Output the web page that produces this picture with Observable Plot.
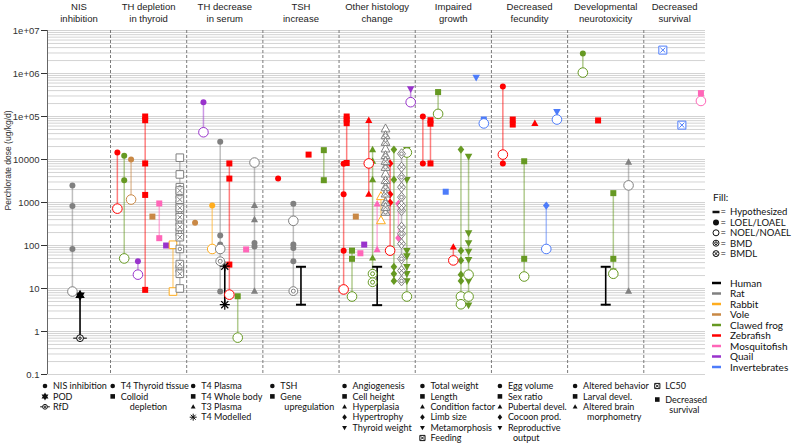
<!DOCTYPE html>
<html><head><meta charset="utf-8">
<script src="https://cdn.jsdelivr.net/npm/d3@7"></script>
<script src="https://cdn.jsdelivr.net/npm/@observablehq/plot@0.6"></script>
<style>body{margin:0;background:#fff}</style>
</head><body><div id="chart"></div>
<script>
// ---------- data ----------
const species = ["Human","Rat","Rabbit","Vole","Clawed frog","Zebrafish","Mosquitofish","Quail","Invertebrates"];
const speciesColors = ["#000000","#808080","#ffad1f","#c98845","#669922","#ff0000","#ff66b8","#9933cc","#4d7cfa"];
const headers = ["NIS\ninhibition","TH depletion\nin thyroid","TH decrease\nin serum","TSH\nincrease","Other histology\nchange","Impaired\ngrowth","Decreased\nfecundity","Developmental\nneurotoxicity","Decreased\nsurvival"];
const yTicks = [1e7,1e6,1e5,1e4,1e3,100,10,1,0.1];
const yTickLabels = ["1e+07","1e+06","1e+05","10000","1000","100","10","1","0.1"];
const yLabel = "Perchlorate dose (ug/kg/d)";
const X_MIN = 0.173, X_MAX = 8.81;
const dividers = [1,2,3,4,5,6,7,8];

// [x, species, shape, style(F=LOEL, O=NOEL, M=BMD, L=BMDL), dose]
const nisData = [
 [0.5,"Rat","circle","F",2500],[0.5,"Rat","circle","F",830],[0.5,"Rat","circle","F",83],[0.5,"Rat","circle","O",8.5],
 [0.6,"Human","pod","F",7],[0.6,"Human","rfd","O",0.7]
];
const thyroidData = [
 [1.09,"Zebrafish","circle","F",14500],[1.09,"Zebrafish","circle","O",720],
 [1.18,"Clawed frog","circle","F",12300],[1.18,"Clawed frog","circle","F",3300],[1.18,"Clawed frog","circle","O",50],
 [1.27,"Vole","circle","F",10000],[1.27,"Vole","circle","O",1170],
 [1.36,"Quail","circle","F",43],[1.36,"Quail","circle","O",21],
 [1.455,"Zebrafish","square","F",100000],[1.455,"Zebrafish","square","F",82000],[1.455,"Zebrafish","square","F",8100],[1.455,"Zebrafish","square","F",1500],[1.455,"Zebrafish","square","F",9.3],
 [1.55,"Vole","square","F",470],
 [1.64,"Mosquitofish","square","F",950],[1.64,"Mosquitofish","square","F",148],
 [1.73,"Quail","square","F",100],
 [1.82,"Rabbit","square","O",104],[1.82,"Rabbit","square","O",8.5],
 [1.91,"Rat","square","O",11000],[1.91,"Rat","square","O",4500],[1.91,"Rat","square","M",2270],[1.91,"Rat","square","L",1900],
 [1.91,"Rat","square","M",1510],[1.91,"Rat","square","L",1170],[1.91,"Rat","square","M",930],[1.91,"Rat","square","L",750],
 [1.91,"Rat","square","M",600],[1.91,"Rat","square","L",455],[1.91,"Rat","square","M",350],[1.91,"Rat","square","L",270],
 [1.91,"Rat","square","M",205],[1.91,"Rat","square","L",156],[1.91,"Rat","square","M",83],[1.91,"Rat","square","L",37],
 [1.91,"Rat","square","M",29],[1.91,"Rat","square","L",22],[1.91,"Rat","square","O",10]
];
const serumData = [
 [2.11,"Vole","circle","F",340],
 [2.22,"Quail","circle","F",215000],[2.22,"Quail","circle","O",43000],
 [2.335,"Rabbit","circle","F",850],[2.335,"Rabbit","circle","O",83],
 [2.44,"Rat","circle","F",25700],[2.44,"Rat","circle","F",170],[2.44,"Rat","circle","F",105],[2.44,"Rat","circle","F",95],[2.44,"Rat","circle","O",83],[2.44,"Rat","circle","M",43],[2.44,"Rat","circle","F",8.5],
 [2.5,"Human","asterisk","F",33],[2.5,"Human","asterisk","F",4.2],
 [2.56,"Zebrafish","square","F",8100],[2.56,"Zebrafish","square","F",3600],[2.56,"Zebrafish","square","F",36],[2.56,"Zebrafish","circle","O",7.2],
 [2.67,"Clawed frog","square","F",6.6],[2.67,"Clawed frog","circle","O",0.72],
 [2.78,"Mosquitofish","square","F",81],
 [2.89,"Rat","circle","O",8500],[2.89,"Rat","triangle","F",850],[2.89,"Rat","triangle","F",400],[2.89,"Rat","circle","F",115],[2.89,"Rat","circle","F",95],[2.89,"Rat","triangle","F",8.7]
];
const tshData = [
 [3.2,"Zebrafish","circle","F",3600],
 [3.4,"Rat","circle","F",930],[3.4,"Rat","circle","O",375],[3.4,"Rat","circle","F",105],[3.4,"Rat","circle","F",88],[3.4,"Rat","circle","F",43],[3.4,"Rat","circle","M",8.7],
 [3.5,"Human","hyp","F",32],[3.5,"Human","hyp","F",4.2],
 [3.6,"Zebrafish","square","F",13000],
 [3.8,"Clawed frog","square","F",16500],[3.8,"Clawed frog","square","F",3300]
];
const histologyData = [
 [4.06,"Zebrafish","circle","F",7950],[4.06,"Zebrafish","circle","F",1550],[4.06,"Zebrafish","circle","F",76],[4.06,"Zebrafish","circle","O",9.5],
 [4.1,"Zebrafish","square","F",100000],[4.1,"Zebrafish","square","F",85000],[4.1,"Zebrafish","square","F",70000],[4.1,"Zebrafish","square","F",8300],
 [4.17,"Clawed frog","square","F",76],[4.17,"Clawed frog","square","F",49],[4.17,"Clawed frog","circle","O",6.5],
 [4.22,"Vole","square","F",470],
 [4.28,"Mosquitofish","square","F",66],
 [4.33,"Quail","square","F",105],
 [4.39,"Zebrafish","triangle","F",81000],[4.39,"Zebrafish","circle","O",8100],[4.39,"Zebrafish","triangle","F",1550],
 [4.44,"Clawed frog","triangle","F",17000],[4.44,"Clawed frog","triangle","F",9100],[4.44,"Clawed frog","triangle","F",3400],[4.44,"Clawed frog","triangle","F",51],[4.44,"Clawed frog","circle","M",22],[4.44,"Clawed frog","circle","M",14],
 [4.5,"Mosquitofish","triangle","F",930],[4.5,"Mosquitofish","triangle","F",80],
 [4.5,"Human","hyp","F",32],[4.5,"Human","hyp","F",4.1],
 [4.55,"Rabbit","triangle","O",1380],[4.55,"Rabbit","triangle","O",380],
 [4.61,"Rat","triangle","O",51800],[4.61,"Rat","triangle","M",36100],[4.61,"Rat","triangle","L",25200],[4.61,"Rat","triangle","O",17700],
 [4.61,"Rat","triangle","M",12400],[4.61,"Rat","triangle","L",9140],[4.61,"Rat","triangle","M",6620],[4.61,"Rat","triangle","O",4640],
 [4.61,"Rat","triangle","L",3250],[4.61,"Rat","triangle","M",2270],[4.61,"Rat","triangle","L",1590],[4.61,"Rat","triangle","M",1015],
 [4.61,"Rat","triangle","L",778],[4.61,"Rat","triangle","M",596],
 [4.67,"Zebrafish","diamond","F",8100],[4.67,"Zebrafish","diamond","F",1550],[4.67,"Zebrafish","diamond","F",1000],[4.67,"Zebrafish","circle","O",76],
 [4.72,"Clawed frog","diamond","F",17000],[4.72,"Clawed frog","diamond","F",3400],[4.72,"Clawed frog","diamond","F",32],[4.72,"Clawed frog","diamond","F",22],[4.72,"Clawed frog","diamond","F",15],
 [4.78,"Mosquitofish","diamond","F",930],[4.78,"Mosquitofish","diamond","F",150],
 [4.82,"Rat","diamond","M",13600],[4.82,"Rat","diamond","L",6620],[4.82,"Rat","diamond","M",3870],[4.82,"Rat","diamond","L",2270],
 [4.82,"Rat","diamond","M",1330],[4.82,"Rat","diamond","L",850],[4.82,"Rat","diamond","M",650],[4.82,"Rat","diamond","L",267],
 [4.82,"Rat","diamond","M",187],[4.82,"Rat","diamond","L",110],[4.82,"Rat","diamond","M",49],[4.82,"Rat","diamond","L",26],[4.82,"Rat","diamond","M",15],
 [4.89,"Clawed frog","invtri","F",17000],[4.89,"Clawed frog","circle","O",14500],[4.89,"Clawed frog","invtri","F",3400],[4.89,"Clawed frog","invtri","F",76],
 [4.89,"Clawed frog","invtri","F",57],[4.89,"Clawed frog","invtri","F",32],[4.89,"Clawed frog","invtri","F",22],[4.89,"Clawed frog","invtri","F",15],[4.89,"Clawed frog","circle","O",6.5],
 [4.94,"Quail","invtri","F",440000],[4.94,"Quail","circle","O",215000]
];
const growthData = [
 [5.1,"Zebrafish","circle","F",100000],[5.1,"Zebrafish","circle","F",8100],
 [5.2,"Zebrafish","square","F",82000],[5.2,"Zebrafish","square","F",68000],[5.2,"Zebrafish","square","F",8100],
 [5.3,"Clawed frog","square","F",370000],[5.3,"Clawed frog","circle","O",115000],
 [5.4,"Invertebrates","square","F",1780],
 [5.5,"Zebrafish","triangle","F",92],[5.5,"Zebrafish","circle","O",45],
 [5.6,"Clawed frog","diamond","F",17000],[5.6,"Clawed frog","diamond","F",76],[5.6,"Clawed frog","diamond","F",45],[5.6,"Clawed frog","diamond","F",21],[5.6,"Clawed frog","diamond","F",15],[5.6,"Clawed frog","circle","O",6.5],[5.6,"Clawed frog","circle","O",4.3],
 [5.7,"Clawed frog","invtri","F",11800],[5.7,"Clawed frog","invtri","F",195],[5.7,"Clawed frog","invtri","F",115],[5.7,"Clawed frog","invtri","F",73],[5.7,"Clawed frog","invtri","F",47],
 [5.7,"Clawed frog","circle","O",21],[5.7,"Clawed frog","invtri","F",15],[5.7,"Clawed frog","circle","O",6.5],[5.7,"Clawed frog","invtri","F",4.1],
 [5.8,"Invertebrates","invtri","F",810000],
 [5.9,"Invertebrates","square","F",85000],[5.9,"Invertebrates","circle","O",69000]
];
const fecundityData = [
 [6.15,"Zebrafish","circle","F",500000],[6.15,"Zebrafish","circle","O",13000],[6.15,"Zebrafish","circle","F",8100],
 [6.28,"Zebrafish","square","F",85000],[6.28,"Zebrafish","square","F",65000],
 [6.43,"Clawed frog","square","F",9100],[6.43,"Clawed frog","square","F",49],[6.43,"Clawed frog","circle","O",19],
 [6.57,"Zebrafish","triangle","F",69000],
 [6.72,"Invertebrates","diamond","F",850],[6.72,"Invertebrates","circle","O",83],
 [6.86,"Invertebrates","invtri","F",130000],[6.86,"Invertebrates","circle","O",85000]
];
const neuroData = [
 [7.2,"Clawed frog","circle","F",2900000],[7.2,"Clawed frog","circle","O",1050000],
 [7.4,"Zebrafish","square","F",81000],
 [7.5,"Human","hyp","F",32],[7.5,"Human","hyp","F",4.2],
 [7.6,"Clawed frog","square","F",1650],[7.6,"Clawed frog","square","F",49],[7.6,"Clawed frog","circle","O",22],[7.6,"Clawed frog","square","F",25],
 [7.8,"Rat","triangle","F",8700],[7.8,"Rat","circle","O",2500],[7.8,"Rat","triangle","F",8.7]
];
const survivalData = [
 [8.25,"Invertebrates","lc50","L",3500000],
 [8.5,"Invertebrates","lc50","L",63000],
 [8.75,"Mosquitofish","square","F",350000],[8.75,"Mosquitofish","circle","O",230000]
];

// bottom legends: [shape, text, row, indent]
const bottomLegends = [
 [["circle","NIS inhibition",0],["pod","POD",1],["rfd","RfD",2]],
 [["circle","T4 Thyroid tissue",0],["square","Colloid",1],[null,"depletion",2,9]],
 [["circle","T4 Plasma",0],["square","T4 Whole body",1],["triangle","T3 Plasma",2],["asterisk","T4 Modelled",3]],
 [["circle","TSH",0],["square","Gene",1],[null,"upregulation",2,4]],
 [["circle","Angiogenesis",0],["square","Cell height",1],["triangle","Hyperplasia",2],["diamond","Hypertrophy",3],["invtri","Thyroid weight",4]],
 [["circle","Total weight",0],["square","Length",1],["triangle","Condition factor",2],["diamond","Limb size",3],["invtri","Metamorphosis",4],["lc50","Feeding",5]],
 [["circle","Egg volume",0],["square","Sex ratio",1],["triangle","Pubertal devel.",2],["diamond","Cocoon prod.",3],["invtri","Reproductive",4],[null,"output",5,5]],
 [["circle","Altered behavior",0],["square","Larval devel.",1],["triangle","Altered brain",2],[null,"morphometry",3,4]],
 [["lc50","LC50",0],["square","Decreased",1.3],[null,"survival",2.3,4]]
];
const fillLegend = [["hyp","F","Hypothesized"],["circle","F","LOEL/LOAEL"],["circle","O","NOEL/NOAEL"],["circle","M","BMD"],["circle","L","BMDL"]];

// ---------- layout (pixels) ----------
const LAYOUT = {
  legendDx: [-2, 2.7, 7, 10, 6, 7.7, 9, 8, 14],
  bottomRow0: 386, bottomRowStep: 10.4,
  rightSymX: 716, rightEqX: 720.5, rightTextX: 730,
  fillTitleY: 197, fillRow0: 212, fillStep: 10.4,
  speciesRow0: 283, speciesStep: 10.5
};

// ---------- symbols ----------
function outline(ctx, shape, r) {
  switch (shape) {
    case "circle": ctx.moveTo(r,0); ctx.arc(0,0,r,0,2*Math.PI); break;
    case "square": case "lc50": ctx.rect(-r,-r,2*r,2*r); break;
    case "triangle": ctx.moveTo(0,-1.15*r); ctx.lineTo(1.05*r,0.75*r); ctx.lineTo(-1.05*r,0.75*r); ctx.closePath(); break;
    case "invtri": ctx.moveTo(0,1.15*r); ctx.lineTo(-1.05*r,-0.75*r); ctx.lineTo(1.05*r,-0.75*r); ctx.closePath(); break;
    case "diamond": ctx.moveTo(0,-1.25*r); ctx.lineTo(r,0); ctx.lineTo(0,1.25*r); ctx.lineTo(-r,0); ctx.closePath(); break;
    case "pod": {
      for (const a0 of [-Math.PI/2, Math.PI/2]) {
        for (let k = 0; k < 3; k++) {
          const a = a0 + k*2*Math.PI/3;
          k === 0 ? ctx.moveTo(r*Math.cos(a), r*Math.sin(a)) : ctx.lineTo(r*Math.cos(a), r*Math.sin(a));
        }
        ctx.closePath();
      }
      break;
    }
    case "rfd": ctx.moveTo(r,0); ctx.arc(0,0,r,0,2*Math.PI);
      ctx.moveTo(r*0.35,0); ctx.arc(0,0,r*0.35,0,2*Math.PI);
      ctx.moveTo(-2*r,0); ctx.lineTo(-r,0); ctx.moveTo(r,0); ctx.lineTo(2*r,0); break;
    case "asterisk":
      for (let k = 0; k < 4; k++) { const a = k*Math.PI/4; ctx.moveTo(r*Math.cos(a), r*Math.sin(a)); ctx.lineTo(-r*Math.cos(a), -r*Math.sin(a)); }
      break;
    case "hyp": ctx.moveTo(-r,0); ctx.lineTo(r,0); break;
  }
}
function makeSymbol(shape, style) {
  return {draw(ctx, size) {
    const r = Math.sqrt(size/Math.PI);
    outline(ctx, shape, r);
    if (style === "M") { const q = r*0.45; ctx.moveTo(q,0); ctx.arc(0,0,q,0,2*Math.PI); }
    if (style === "L") { const q = r*0.62; ctx.moveTo(-q,-q); ctx.lineTo(q,q); ctx.moveTo(q,-q); ctx.lineTo(-q,q); }
  }};
}
function sizeFor(shape, style) {
  const filled = style === "F";
  switch (shape) {
    case "circle": return filled ? 3 : (style === "O" ? 4.8 : 4.4);
    case "square": return filled ? 3 : 3.8;
    case "triangle": return filled ? 3.4 : 4.2;
    case "diamond": return filled ? 3.3 : 4;
    case "invtri": return 3.6;
    case "pod": return 5.5;
    case "rfd": return 3.4;
    case "asterisk": return 5;
    case "hyp": return 5;
    case "lc50": return 4;
  }
  return 3;
}

// ---------- build ----------
const colorOf = new Map(species.map((s,i) => [s, speciesColors[i]]));
const toRow = ([x, sp, shape, style, dose]) => ({x, species: sp, shape, style, dose, key: sp + "|" + x});
const points = [nisData, thyroidData, serumData, tshData, histologyData, growthData, fecundityData, neuroData, survivalData].flat().map(toRow);
const linePts = points.slice().sort((a,b) => d3.ascending(a.key,b.key) || d3.ascending(a.dose,b.dose));
const gridValues = [];
for (let e = -1; e < 7; e++) for (let m = 1; m <= 9; m++) gridValues.push(m * 10**e);
gridValues.push(1e7);
const panelCenters = headers.map((_, i) => ((i === 0 ? X_MIN : i) + (i === 8 ? X_MAX : i + 1)) / 2);

const dotMarks = [];
const groups = d3.groups(points, d => d.shape + "|" + d.style);
const order = g => (g[1][0].style === "F" ? 0 : 1);
groups.sort((a,b) => order(a) - order(b));
for (const [k, arr] of groups) {
  const {shape, style} = arr[0];
  const strokeOnly = shape === "asterisk" || shape === "hyp";
  const filled = style === "F" && !strokeOnly && shape !== "rfd";
  dotMarks.push(Plot.dot(arr, {
    x: "x", y: "dose",
    symbol: makeSymbol(shape, style),
    r: sizeFor(shape, style),
    fill: strokeOnly ? "none" : filled ? "species" : "white",
    stroke: filled ? "none" : "species",
    strokeWidth: shape === "hyp" ? 2 : shape === "asterisk" ? 1.2 : 1
  }));
}

const plot = Plot.plot({
  width: 800, height: 443,
  marginLeft: 47, marginRight: 95, marginTop: 30, marginBottom: 69,
  style: {fontFamily: "'Liberation Sans', Arial, sans-serif", fontSize: "9.5px", background: "white", color: "#333"},
  x: {domain: [X_MIN, X_MAX], axis: null},
  y: {type: "log", domain: [0.1, 1e7], ticks: yTicks, tickFormat: d => yTickLabels[yTicks.findIndex(t => Math.abs(t - d) / t < 1e-9)], tickSize: 6, tickPadding: 2, label: null},
  color: {domain: species, range: speciesColors},
  marks: [
    Plot.ruleY(gridValues, {stroke: "#d3d3d3", strokeWidth: 1}),
    Plot.ruleX(dividers, {stroke: "#7a7a7a", strokeDasharray: "3,2"}),
    Plot.ruleX([X_MIN], {stroke: "#666"}),
    Plot.line(linePts.filter(d => d.species !== "Human"), {x: "x", y: "dose", z: "key", stroke: "species", strokeOpacity: 0.5, strokeWidth: 1.5}),
    Plot.line(linePts.filter(d => d.species === "Human"), {x: "x", y: "dose", z: "key", stroke: "species", strokeWidth: 1.6}),
    ...dotMarks,
    Plot.text(headers, {x: (d,i) => panelCenters[i], text: d => d, frameAnchor: "top", dy: -18, lineAnchor: "middle", lineHeight: 1.2, fontSize: 9.5, fill: "#222"}),
    Plot.text([yLabel], {text: d => d, frameAnchor: "left", rotate: -90, dx: -39, dy: 8, fontSize: 8.5, fill: "#333"})
  ]
});

// ---------- legends ----------
const svg = d3.select(plot);
const xs = plot.scale("x");
const lg = svg.append("g").attr("font-family", "Lato, 'Open Sans', sans-serif").attr("fill", "#111").attr("text-anchor", "start");
function drawSym(g, shape, style, r, cx, cy, color) {
  const strokeOnly = shape === "asterisk" || shape === "hyp";
  const filled = style === "F" && !strokeOnly && shape !== "rfd";
  g.append("path")
    .attr("d", d3.symbol(makeSymbol(shape, style), Math.PI * r * r)())
    .attr("transform", `translate(${cx},${cy})`)
    .attr("fill", strokeOnly ? "none" : filled ? color : "white")
    .attr("stroke", filled ? "none" : color)
    .attr("stroke-width", shape === "hyp" ? 2.5 : 1);
}
bottomLegends.forEach((items, p) => {
  const left = xs.apply(p === 0 ? X_MIN : p);
  const bx = left + LAYOUT.legendDx[p];
  for (const [shape, text, row, indent] of items) {
    const y = LAYOUT.bottomRow0 + row * LAYOUT.bottomRowStep;
    if (shape) {
      const st = shape === "lc50" ? "L" : (shape === "rfd" ? "O" : "F");
      const r = shape === "pod" ? 4 : shape === "rfd" ? 2.4 : shape === "asterisk" ? 3.5 : shape === "lc50" ? 2.6 : 2.3;
      drawSym(lg, shape, st, r, bx, y, "#111");
    }
    lg.append("text").attr("x", bx + 8 + (indent || 0)).attr("y", y).attr("dy", "0.35em").attr("font-size", 9).text(text);
  }
});
lg.append("text").attr("x", LAYOUT.rightSymX - 3).attr("y", LAYOUT.fillTitleY).attr("dy", "0.35em").attr("font-size", 10).text("Fill:");
fillLegend.forEach(([shape, style, text], i) => {
  const y = LAYOUT.fillRow0 + i * LAYOUT.fillStep;
  drawSym(lg, shape, style, shape === "hyp" ? 3.5 : 3, LAYOUT.rightSymX, y, "#111");
  lg.append("text").attr("x", LAYOUT.rightEqX).attr("y", y).attr("dy", "0.35em").attr("font-size", 9.5).text("=");
  lg.append("text").attr("x", LAYOUT.rightTextX).attr("y", y).attr("dy", "0.35em").attr("font-size", 9.5).text(text);
});
species.forEach((s, i) => {
  const y = LAYOUT.speciesRow0 + i * LAYOUT.speciesStep;
  lg.append("line").attr("x1", LAYOUT.rightSymX - 4).attr("x2", LAYOUT.rightSymX + 5).attr("y1", y).attr("y2", y)
    .attr("stroke", colorOf.get(s)).attr("stroke-width", 2.5);
  lg.append("text").attr("x", LAYOUT.rightTextX).attr("y", y).attr("dy", "0.35em").attr("font-size", 10).text(s);
});

document.getElementById("chart").appendChild(plot);
</script>
</body></html>
